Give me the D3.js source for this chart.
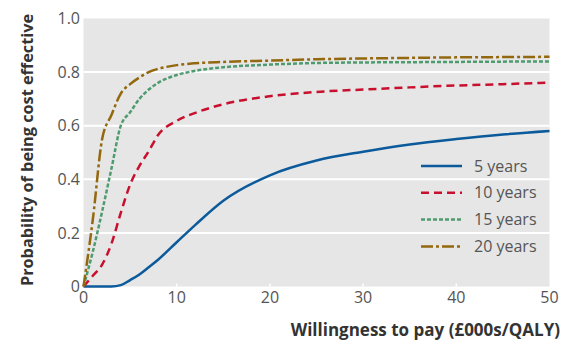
<!DOCTYPE html>
<html>
<head>
<meta charset="utf-8">
<script src="https://cdn.jsdelivr.net/npm/d3@7"></script>
<style>
  body { margin: 0; background: #fff; }
  svg { display: block; font-family: "Open Sans", "Noto Sans", sans-serif; }
</style>
</head>
<body>
<svg id="chart" width="574" height="343"></svg>
<script>
// willingness to pay (£000s/QALY)
var wtp = [0, 1, 2, 3, 4, 5, 6, 7, 8, 10, 12, 15, 20, 25, 30, 35, 40, 45, 50]

// probability of being cost effective, one array per time horizon
var years5  = [0, 0, 0, 0, 0.005, 0.024, 0.045, 0.072, 0.10, 0.165, 0.23, 0.32, 0.415, 0.47, 0.503, 0.53, 0.55, 0.567, 0.58]
var years10 = [0, 0.04, 0.082, 0.16, 0.275, 0.38, 0.45, 0.505, 0.565, 0.618, 0.648, 0.68, 0.71, 0.726, 0.735, 0.743, 0.75, 0.755, 0.761]
var years15 = [0, 0.13, 0.28, 0.44, 0.60, 0.65, 0.70, 0.735, 0.76, 0.789, 0.805, 0.818, 0.828, 0.834, 0.836, 0.837, 0.838, 0.839, 0.84]
var years20 = [0, 0.25, 0.55, 0.64, 0.72, 0.755, 0.78, 0.80, 0.812, 0.826, 0.833, 0.838, 0.843, 0.848, 0.851, 0.853, 0.855, 0.856, 0.857]

var seriesNames = ["5 years", "10 years", "15 years", "20 years"]
var xTicks = [0, 10, 20, 30, 40, 50]
var yTicks = [0, 0.2, 0.4, 0.6, 0.8, 1.0]

var series = [
  {name: seriesNames[0], values: years5,  color: "#0b5a9b", dash: null},
  {name: seriesNames[1], values: years10, color: "#c8102e", dash: "8,5"},
  {name: seriesNames[2], values: years15, color: "#4e9b6f", dash: "4,2"},
  {name: seriesNames[3], values: years20, color: "#93680f", dash: "12,3,3,3"}
]

var svg = d3.select("#chart")
var plot = {left: 83.5, right: 549.5, top: 18.5, bottom: 286.5}

var x = d3.scaleLinear().domain([0, 50]).range([plot.left, plot.right])
var y = d3.scaleLinear().domain([0, 1]).range([plot.bottom, plot.top])

// plot background
svg.append("rect")
  .attr("x", plot.left).attr("y", plot.top)
  .attr("width", plot.right - plot.left).attr("height", plot.bottom - plot.top)
  .style("fill", "#e6e6e6")

// horizontal gridlines
svg.selectAll(".grid")
  .data(yTicks.filter(d => d > 0 && d < 1))
  .enter().append("line")
  .attr("x1", plot.left).attr("x2", plot.right)
  .attr("y1", d => y(d)).attr("y2", d => y(d))
  .style("stroke", "#fff").style("stroke-width", 2)

// little white ticks at bottom
svg.selectAll(".xtick")
  .data(xTicks.filter(d => d > 0 && d < 50))
  .enter().append("line")
  .attr("x1", d => x(d)).attr("x2", d => x(d))
  .attr("y1", plot.bottom).attr("y2", plot.bottom - 3)
  .style("stroke", "#fff").style("stroke-width", 1.5)

// tick labels
svg.selectAll(".ylab")
  .data(yTicks)
  .enter().append("text")
  .attr("x", 80)
  .attr("y", d => y(d))
  .attr("dy", "0.36em")
  .attr("text-anchor", "end")
  .style("font-size", "16px")
  .style("fill", "#555")
  .text(d => d === 0 ? "0" : d3.format(".1f")(d))

svg.selectAll(".xlab")
  .data(xTicks)
  .enter().append("text")
  .attr("x", d => x(d))
  .attr("y", 303)
  .attr("text-anchor", "middle")
  .style("font-size", "16px")
  .style("fill", "#555")
  .text(d => d)

// lines
var line = d3.line()
  .x((d, i) => x(wtp[i]))
  .y(d => y(d))
  .curve(d3.curveMonotoneX)

svg.selectAll(".series")
  .data(series)
  .enter().append("path")
  .attr("d", d => line(d.values))
  .style("fill", "none")
  .style("stroke", d => d.color)
  .style("stroke-width", 2.5)
  .style("stroke-dasharray", d => d.dash)

// legend
var lg = svg.append("g")
lg.selectAll("line")
  .data(series)
  .enter().append("line")
  .attr("x1", 421).attr("x2", 462)
  .attr("y1", (d, i) => 166 + i * 26.8)
  .attr("y2", (d, i) => 166 + i * 26.8)
  .style("stroke", d => d.color)
  .style("stroke-width", 2.5)
  .style("stroke-dasharray", d => d.dash)

lg.selectAll("text")
  .data(series)
  .enter().append("text")
  .attr("x", 474)
  .attr("y", (d, i) => 166 + i * 26.8)
  .attr("dy", "0.35em")
  .style("font-size", "16px")
  .style("fill", "#555")
  .text(d => d.name)

// axis titles
svg.append("text")
  .attr("x", 560).attr("y", 336)
  .attr("text-anchor", "end")
  .style("font-size", "17px")
  .style("font-weight", "bold")
  .style("fill", "#333")
  .text("Willingness to pay (£000s/QALY)")

svg.append("text")
  .attr("transform", "translate(33,150) rotate(-90)")
  .attr("text-anchor", "middle")
  .style("font-size", "16.3px")
  .style("font-weight", "bold")
  .style("fill", "#333")
  .text("Probability of being cost effective")
</script>
</body>
</html>
